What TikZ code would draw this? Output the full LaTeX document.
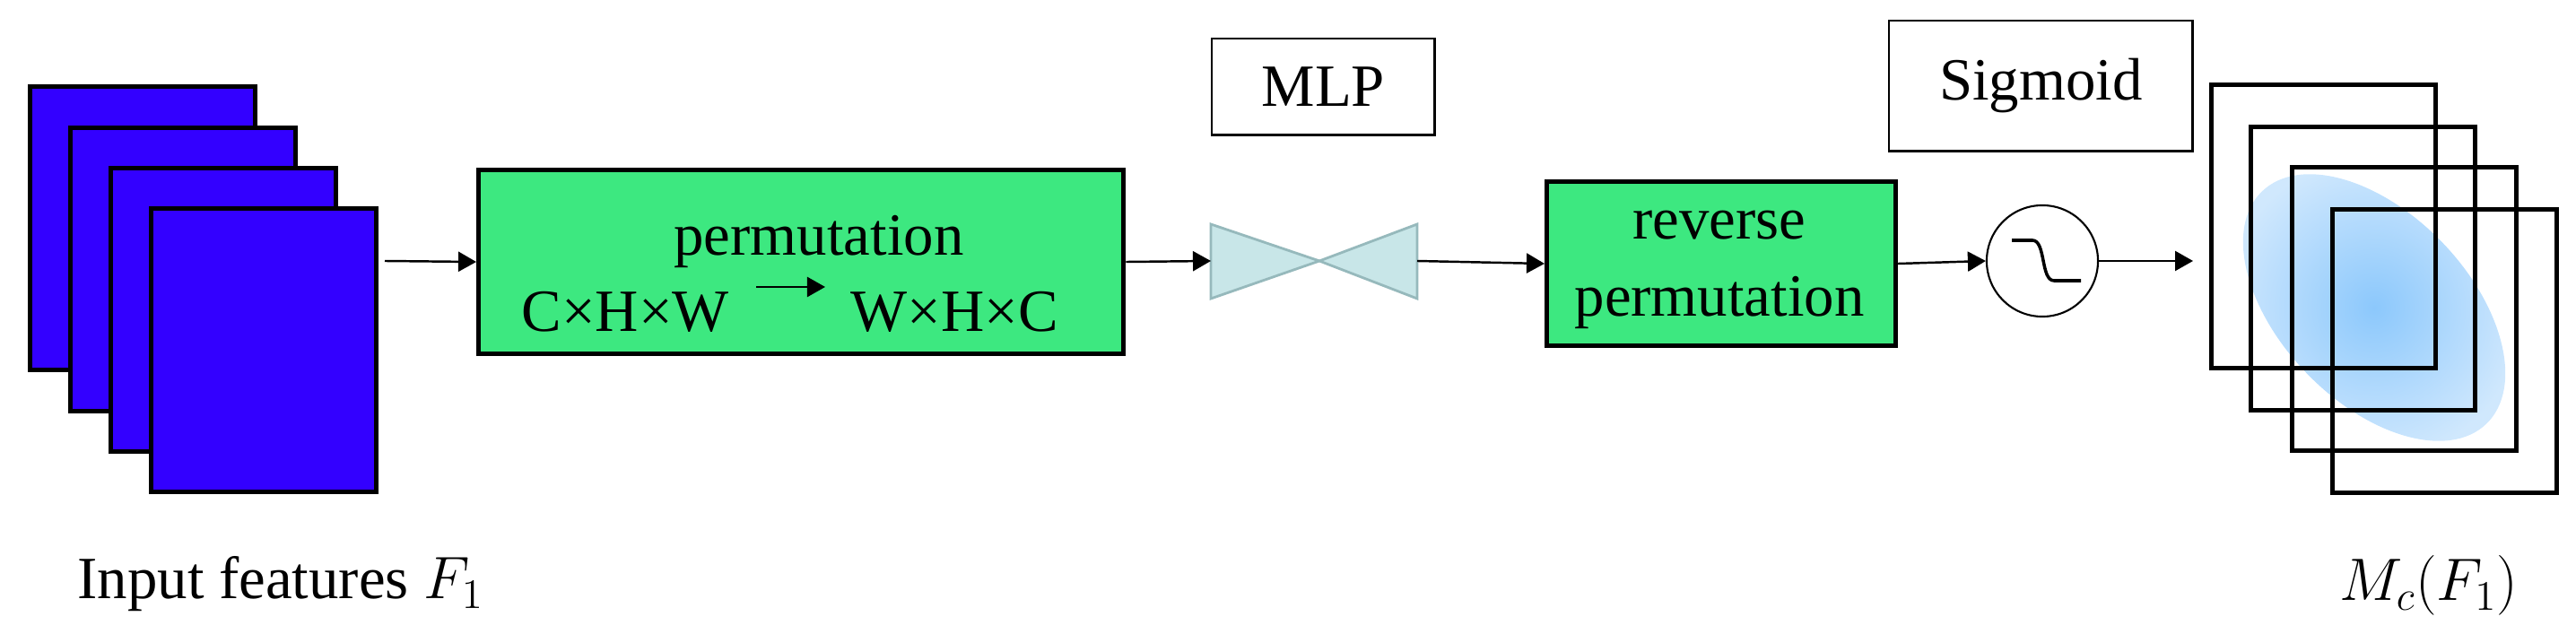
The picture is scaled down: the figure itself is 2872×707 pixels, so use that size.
\RequirePackage{fix-cm}
\documentclass[tikz,border=0pt]{standalone}
\usepackage{fontspec}
\setmainfont{Liberation Serif}
\usetikzlibrary{arrows.meta,shapes.geometric}
\definecolor{mapblue}{RGB}{51,0,255}
\definecolor{permgreen}{RGB}{61,232,128}
\definecolor{mlpcyan}{RGB}{200,230,232}
\definecolor{mlpedge}{RGB}{150,185,188}
\definecolor{blobin}{RGB}{140,200,252}
\definecolor{blobout}{RGB}{208,232,253}
\begin{document}
\begin{tikzpicture}[
    x = 0.01cm, y = -0.01cm,
    every node/.style = {font=\fontsize{19}{25}\selectfont},
    featmap/.style = {draw, line width=1.3pt, fill=mapblue, minimum width=2.51cm, minimum height=3.16cm, anchor=north west, inner sep=0},
    attmap/.style = {draw, line width=1.4pt, minimum width=2.5cm, minimum height=3.16cm, anchor=north west, inner sep=0},
    permbox/.style = {draw, line width=1.4pt, fill=permgreen, anchor=north west, inner sep=0},
    labelbox/.style = {draw, line width=0.7pt, anchor=north west, inner sep=0},
    mlphalf/.style = {draw=mlpedge, fill=mlpcyan, line width=0.8pt},
    flow/.style = {-{Triangle[length=0.2cm,width=0.22cm]}, line width=0.7pt},
    txt/.style = {inner sep=0, anchor=base}
]
    \useasboundingbox (0,0) rectangle (2872,707);

    \node[featmap] (in1) at (31,94) {};
    \node[featmap] (in2) at (76,140) {};
    \node[featmap] (in3) at (121,185) {};
    \node[featmap] (in4) at (166,230) {};
    \node[txt] (inlabel) at (313,668) {Input features $F_1$};

    \node[permbox, minimum width=7.19cm, minimum height=2.05cm] (perm) at (531,187) {};
    \node[txt] (permtxt) at (913,285) {permutation};
    \node[txt, anchor=base west] (chw) at (581,370) {C×H×W};
    \node[txt, anchor=base west] (whc) at (948,370) {W×H×C};
    \coordinate (pa) at (843,320);
    \coordinate (pb) at (920,320);
    \draw[flow] (pa) -- (pb);

    \node[labelbox, minimum width=2.48cm, minimum height=1.07cm] (mlp) at (1350,42) {MLP};
    \draw[mlphalf] (1350,250) -- (1471,291) -- (1350,333) -- cycle;
    \draw[mlphalf] (1580,250) -- (1471,291) -- (1580,333) -- cycle;
    \coordinate (mlpin) at (1350,291);
    \coordinate (mlpout) at (1580,291);

    \node[permbox, minimum width=3.89cm, minimum height=1.83cm] (rev) at (1722,200) {};
    \node[txt] (revtxt) at (1917,267) {reverse};
    \node[txt] (revtxt2) at (1917,353) {permutation};

    \node[labelbox, minimum width=3.38cm, minimum height=1.45cm] (sigbox) at (2105,22) {Sigmoid};
    \node[draw, circle, line width=0.6pt, minimum size=1.24cm, inner sep=0] (sig) at (2277,291) {};
    \draw[line width=1pt] (2243,268) -- (2266,268) .. controls (2281,268) and (2275,313) .. (2290,313) -- (2320,313);

    \node[ellipse, minimum width=3.6cm, minimum height=2.1cm, rotate=-46, inner color=blobin, outer color=blobout] (blob) at (2647,343) {};
    \node[attmap] (out1) at (2463,92) {};
    \node[attmap] (out2) at (2507,139) {};
    \node[attmap] (out3) at (2553,184) {};
    \node[attmap] (out4) at (2598,231) {};
    \node[txt] (outlabel) at (2708,670) {$M_c(F_1)$};

    \coordinate (start) at (429,291);
    \coordinate (end) at (2445,291);
    \draw[flow] (start) -- (perm.west);
    \draw[flow] (perm.east) -- (mlpin);
    \draw[flow] (mlpout) -- (rev.west);
    \draw[flow] (rev.east) -- (sig.west);
    \draw[flow] (sig.east) -- (end);
\end{tikzpicture}
\end{document}
